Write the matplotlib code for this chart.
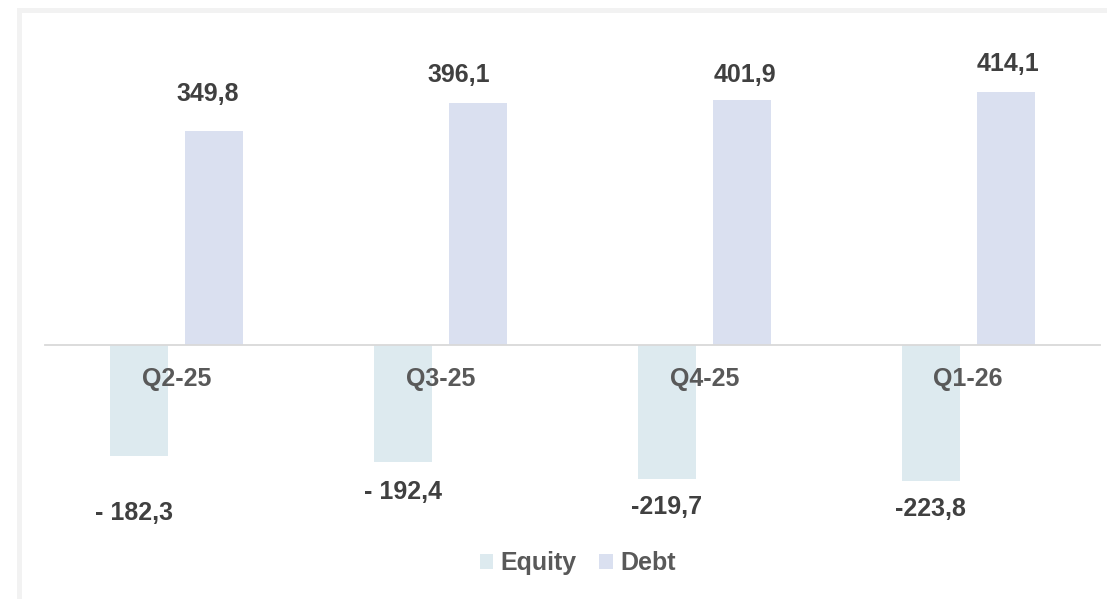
import numpy as np
import matplotlib
matplotlib.use("Agg")
import matplotlib.pyplot as plt
from matplotlib.patches import Rectangle

# data
quarters = ["Q2-25", "Q3-25", "Q4-25", "Q1-26"]
equity = [-182.3, -192.4, -219.7, -223.8]
debt = [349.8, 396.1, 401.9, 414.1]
equity_labels = ["- 182,3", "- 192,4", "-219,7", "-223,8"]
debt_labels = ["349,8", "396,1", "401,9", "414,1"]

# label nudges (pixels) to mimic the hand placed Excel labels
equity_off = [(-5, -57), (0, -30), (0, -28), (0, -28)]
debt_off = [(-7, 37), (-19, 28), (3, 25), (2, 28)]

plt.rcParams['font.family'] = ['Liberation Sans', 'DejaVu Sans']
W, H = 1107, 599
fig = plt.figure(figsize=(W / 100, H / 100), dpi=100)

# grey frame around the chart area
fig.patches.append(Rectangle((18.5 / W, -0.1), 1.2, 1.1 - 10.5 / H, transform=fig.transFigure,
                             fill=False, edgecolor='#f2f2f2', linewidth=3.6, zorder=0))

left, right, top, bottom = 45, 1100, 20, 530
ax = fig.add_axes([left / W, 1 - bottom / H, (right - left) / W, (bottom - top) / H])

x = np.arange(len(quarters))
bw = 0.22
off = 0.142
ax.bar(x - off, equity, bw, color='#ddeaef', label='Equity', zorder=1)
ax.bar(x + off, debt, bw, color='#dae0f0', label='Debt', zorder=1)

px = 0.72  # points per pixel
for i in range(len(quarters)):
    ax.annotate(equity_labels[i], (x[i] - off, equity[i]),
                xytext=(equity_off[i][0] * px, equity_off[i][1] * px), textcoords='offset points',
                ha='center', va='center', fontsize=18, fontweight='bold', color='#404040')
    ax.annotate(debt_labels[i], (x[i] + off, debt[i]),
                xytext=(debt_off[i][0] * px, debt_off[i][1] * px), textcoords='offset points',
                ha='center', va='center', fontsize=18, fontweight='bold', color='#404040')

zero_y = 344.7
scale = 0.61
ax.set_ylim(-(bottom - zero_y) / scale, (zero_y - top) / scale)
ax.set_xlim(-0.5, 3.5)

for s in ['top', 'right', 'left']:
    ax.spines[s].set_visible(False)
ax.spines['bottom'].set_position(('data', 0))
ax.spines['bottom'].set_color('#d9d9d9')
ax.spines['bottom'].set_linewidth(1.3)
ax.set_yticks([])
ax.set_xticks(x)
ax.set_xticklabels(quarters, fontsize=18, fontweight='bold', color='#595959')
ax.tick_params(axis='x', length=0, pad=16)

ax.legend(loc='center', bbox_to_anchor=(0.522, 1 - 563 / H), bbox_transform=fig.transFigure,
          ncol=2, frameon=False, handlelength=0.55, handleheight=0.55, handletextpad=0.3,
          columnspacing=0.9, prop={'size': 18, 'weight': 'bold'}, labelcolor='#595959')

fig.savefig("out.png", dpi=100)
